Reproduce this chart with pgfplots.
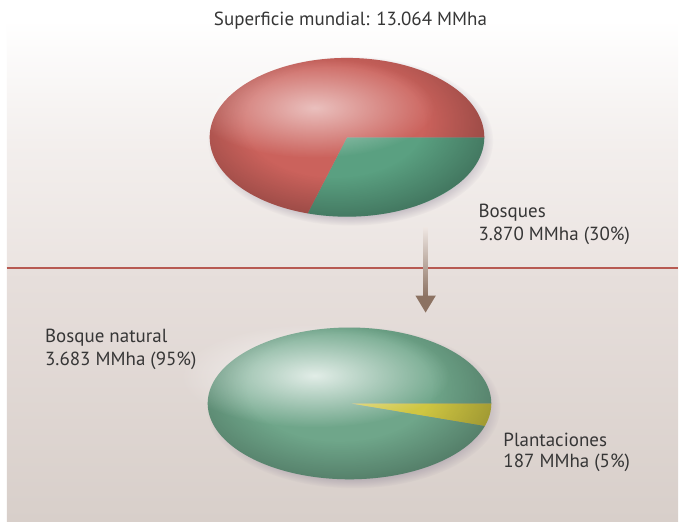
\documentclass[border=0pt]{standalone}
\usepackage{pgfplots}
\pgfplotsset{compat=1.18}
\usepackage{fontspec}
\setmainfont{PT Sans}
\usetikzlibrary{fadings}

% data (MMha)
\def\total{13064}
\def\bosques{3870}
\def\natural{3683}
\def\plant{187}

\definecolor{redc}{HTML}{CB625C}
\definecolor{greenA}{HTML}{5AA081}
\definecolor{greenB}{HTML}{6FA68A}
\definecolor{yellowc}{HTML}{CFC642}
\definecolor{shadowc}{HTML}{8C8296}
\definecolor{topbg}{HTML}{EBE4E1}
\definecolor{botbgA}{HTML}{E7DFDC}
\definecolor{botbgB}{HTML}{D8CFCA}
\definecolor{linec}{HTML}{B75A52}
\definecolor{arrowc}{HTML}{8C7262}
\definecolor{arrowtop}{HTML}{EEE6E2}
\definecolor{textc}{HTML}{363636}

\tikzfading[name=glow, inner color=transparent!0, outer color=transparent!100]
\pgfdeclareradialshading{rimshade}{\pgfpointorigin}{color(0bp)=(black); color(14bp)=(black); color(25bp)=(white!80!black); color(50bp)=(white!80!black)}
\pgfdeclarefading{rim}{\pgfuseshading{rimshade}}
\pgfdeclareradialshading{shadshade}{\pgfpointorigin}{color(0bp)=(white); color(20bp)=(white); color(25bp)=(black); color(50bp)=(black)}
\pgfdeclarefading{shadfade}{\pgfuseshading{shadshade}}

\begin{document}
\begin{tikzpicture}
\begin{axis}[x=1pt, y=1pt, xmin=0, xmax=679, ymin=0, ymax=522, y dir=reverse,
  hide axis, clip=false, scale only axis]
\pgfmathsetmacro{\angA}{\bosques/\total*360}
\pgfmathsetmacro{\angB}{\plant/\bosques*360}
% background
\fill[white] (axis cs:0,0) rectangle (axis cs:679,522);
\shade[top color=white, bottom color=topbg, middle color=white!40!topbg] (axis cs:7,20) rectangle (axis cs:679,268);
\shade[top color=botbgA, bottom color=botbgB] (axis cs:7,268) rectangle (axis cs:679,522);
\draw[linec, line width=2pt] (axis cs:7,268.5) -- (axis cs:679,268.5);
% arrow
\shade[top color=arrowtop, bottom color=arrowc] (axis cs:424,228) rectangle (axis cs:428.5,297);
\fill[arrowc] (axis cs:416,296) -- (axis cs:436.5,296) -- (axis cs:426.2,313) -- cycle;

% ---- top pie ----
\fill[shadowc, opacity=0.7, path fading=shadfade] (axis cs:351,141) ellipse [x radius=143, y radius=85];
\addplot[draw=none, fill=greenA, domain=0:\angA, samples=80, variable=\t]
  ({347.5+137.5*cos(t)}, {137.5+79.5*sin(t)}) -- (axis cs:347.5,137.5) -- cycle;
\addplot[draw=none, fill=redc, domain=\angA:360, samples=150, variable=\t]
  ({347.5+137.5*cos(t)}, {137.5+79.5*sin(t)}) -- (axis cs:347.5,137.5) -- cycle;
\begin{scope}
\clip (axis cs:347.5,137.5) ellipse [x radius=137.5, y radius=79.5];
\fill[black, opacity=0.32, path fading=rim] (axis cs:335,122) ellipse [x radius=160, y radius=98];
\end{scope}
\fill[white, opacity=0.6, path fading=glow] (axis cs:315,108) ellipse [x radius=120, y radius=50];

% ---- bottom pie ----
\fill[shadowc, opacity=0.7, path fading=shadfade] (axis cs:354,408) ellipse [x radius=147, y radius=81];
\addplot[draw=none, fill=yellowc, domain=0:\angB, samples=30, variable=\t]
  ({350+142*cos(t)}, {404+76*sin(t)}) -- (axis cs:350,404) -- cycle;
\addplot[draw=none, fill=greenB, domain=\angB:360, samples=150, variable=\t]
  ({350+142*cos(t)}, {404+76*sin(t)}) -- (axis cs:350,404) -- cycle;
\begin{scope}
\clip (axis cs:350,404) ellipse [x radius=142, y radius=76];
\fill[black, opacity=0.3, path fading=rim] (axis cs:340,388) ellipse [x radius=165, y radius=95];
\end{scope}
\fill[white, opacity=0.8, path fading=glow] (axis cs:315,376) ellipse [x radius=135, y radius=52];

% texts
\begin{scope}[every node/.style={font=\fontsize{19}{22}\selectfont, text=textc, inner sep=0pt}]
\node[anchor=base] at (axis cs:351,26) {Superficie mundial: 13.064 MMha};
\node[anchor=base west] at (axis cs:479,218) {Bosques};
\node[anchor=base west] at (axis cs:479,241) {3.870 MMha (30\%)};
\node[anchor=base west] at (axis cs:45,343) {Bosque natural};
\node[anchor=base west] at (axis cs:45,366) {3.683 MMha (95\%)};
\node[anchor=base west] at (axis cs:504,447) {Plantaciones};
\node[anchor=base west] at (axis cs:504,468) {187 MMha (5\%)};
\end{scope}
\end{axis}
\end{tikzpicture}
\end{document}
